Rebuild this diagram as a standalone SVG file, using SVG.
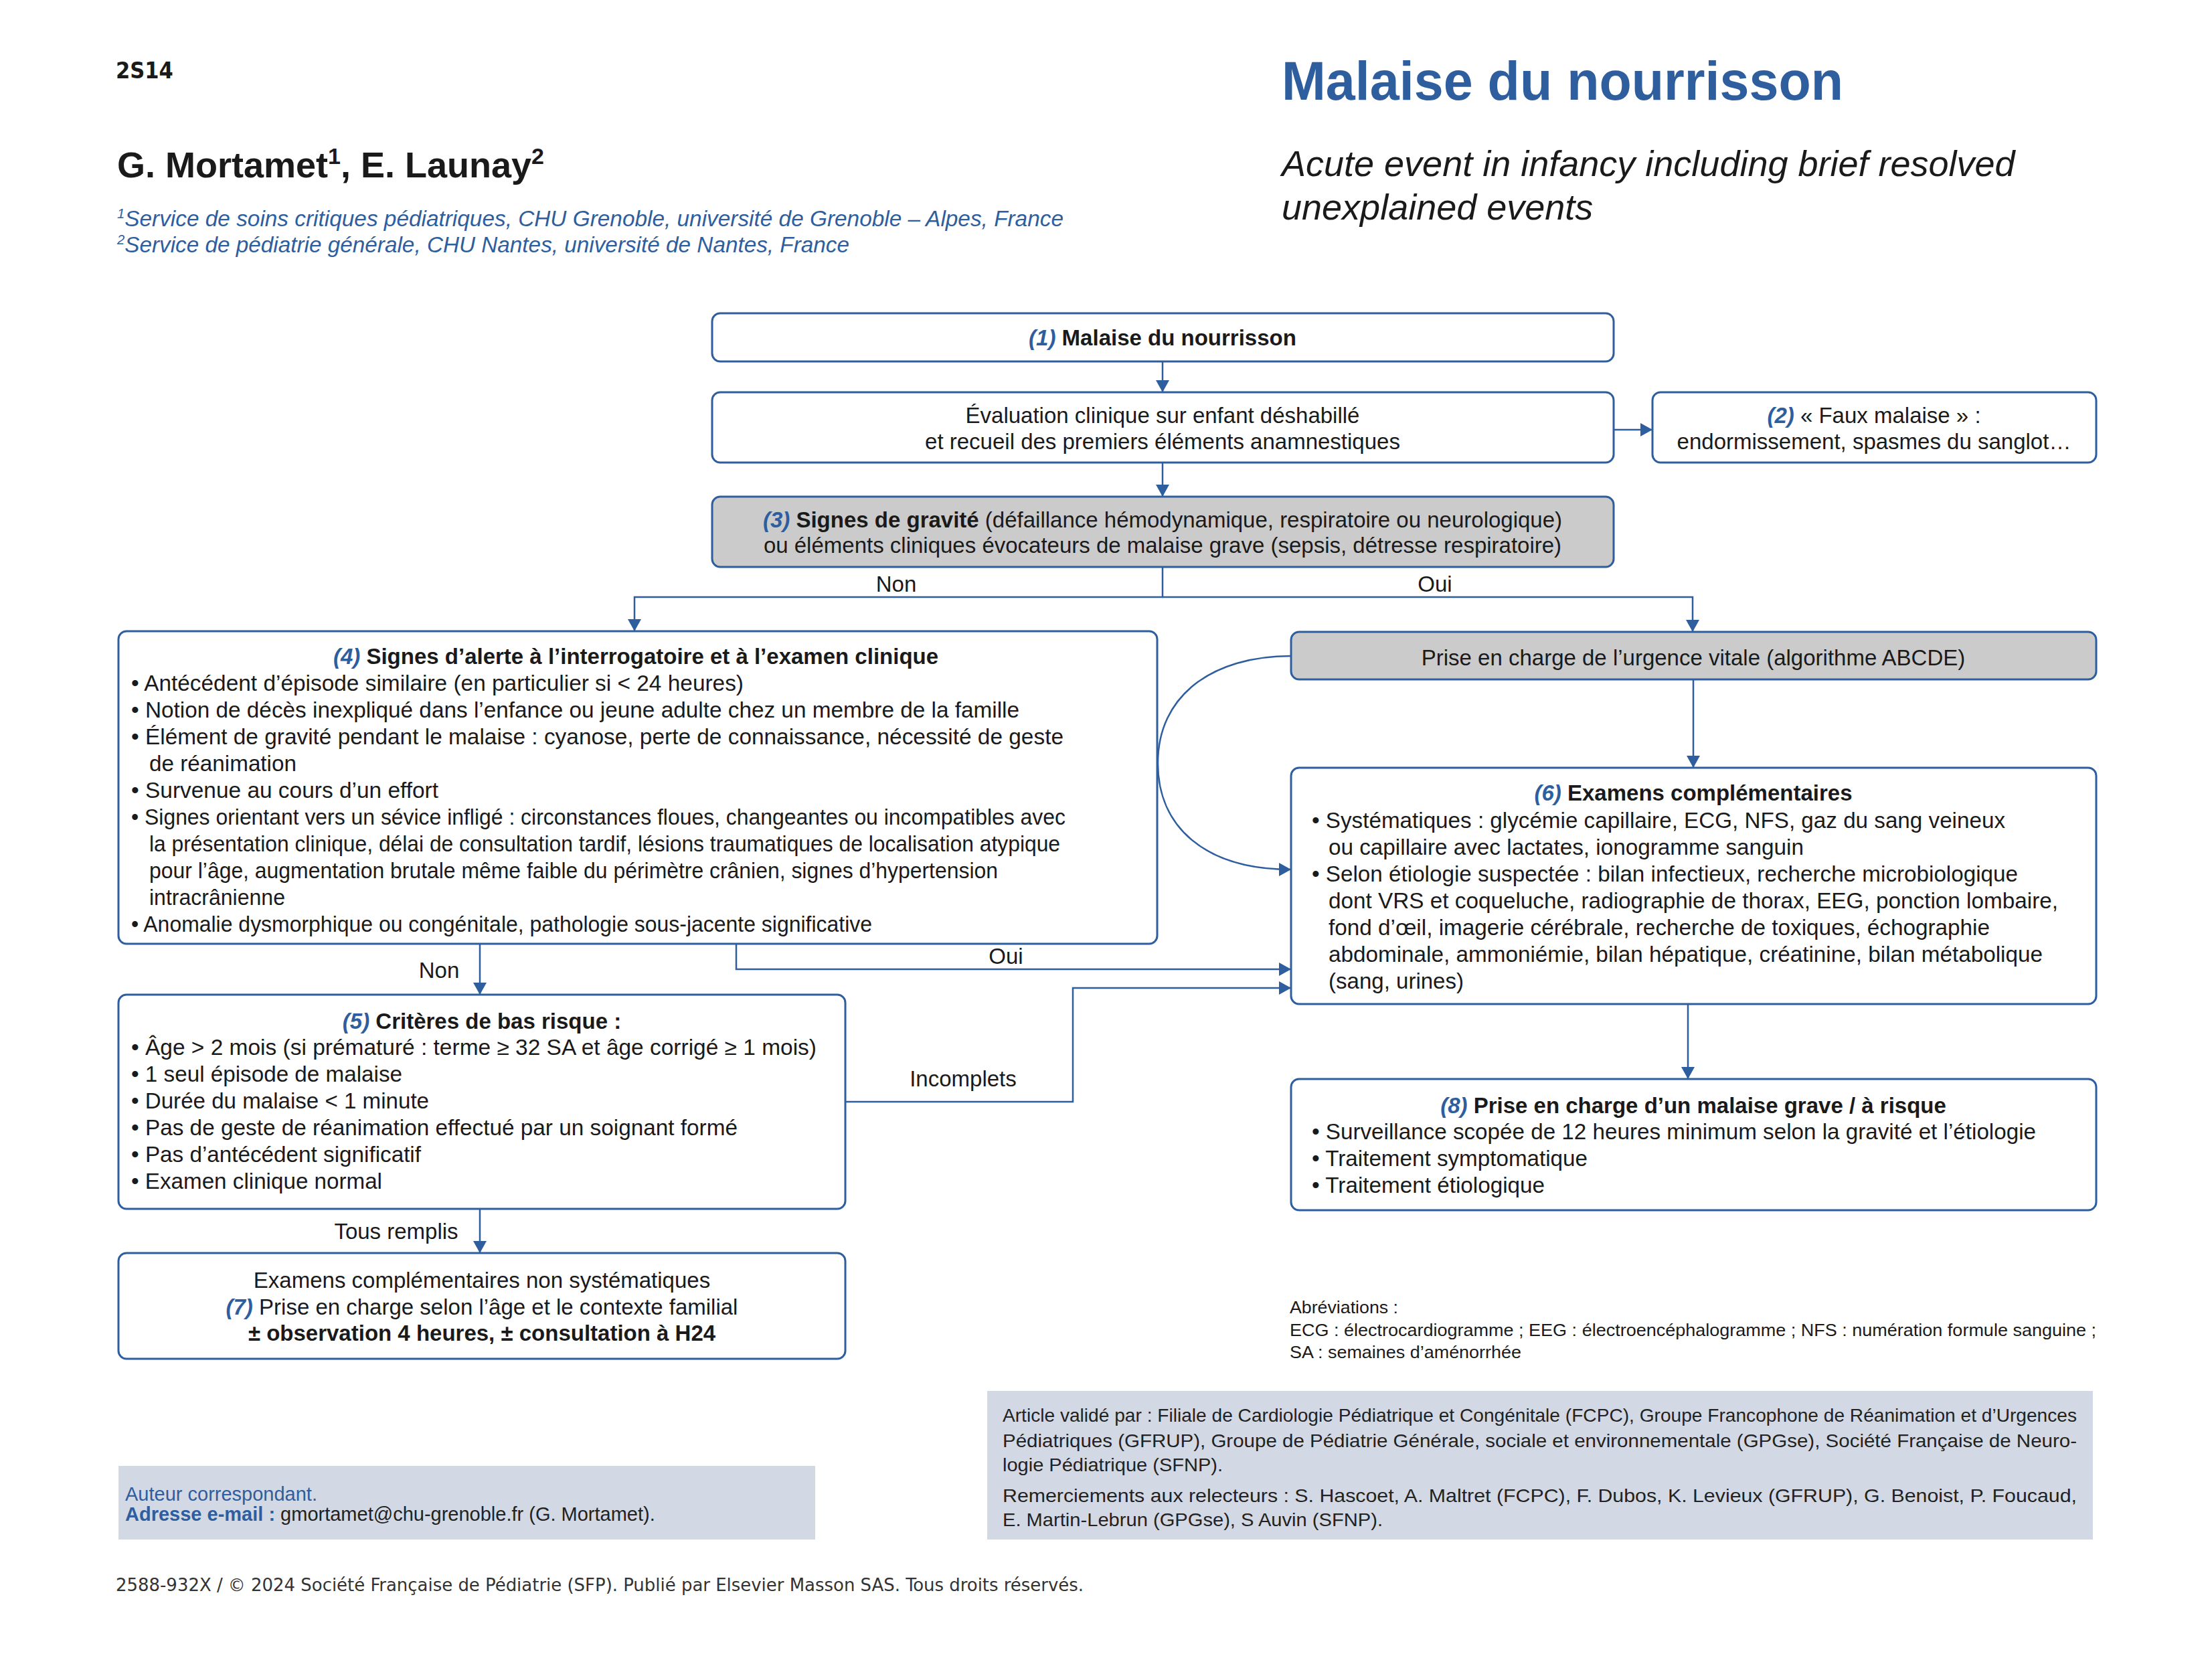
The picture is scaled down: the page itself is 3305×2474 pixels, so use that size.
<svg xmlns="http://www.w3.org/2000/svg" width="3305" height="2474" viewBox="0 0 3305 2474">
<style>
.t{font-family:"Liberation Sans",Arial,sans-serif;font-size:33px;fill:#1a1a1a}
.c{text-anchor:middle}
.b{font-weight:bold}
.n{fill:#2E5E9E;font-style:italic;font-weight:bold}
.box{fill:#ffffff;stroke:#2E5E9E;stroke-width:3}
.gray{fill:#cbcbcb}
.ln{fill:none;stroke:#2E5E9E;stroke-width:2.5;marker-end:url(#ah)}
.sm{font-family:"Liberation Sans",Arial,sans-serif;font-size:26px;fill:#1a1a1a}
.pn{font-family:"Liberation Sans",Arial,sans-serif;font-size:28.5px;fill:#222222}
.panel{fill:#d3d9e4}
</style>
<defs>
<marker id="ah" markerUnits="userSpaceOnUse" markerWidth="18" markerHeight="20" refX="18" refY="10" orient="auto">
<path d="M0,0 L18,10 L0,20 z" fill="#2E5E9E"/>
</marker>
</defs>
<rect x="0" y="0" width="3305" height="2474" fill="#ffffff"/>

<!-- Header -->
<text x="173" y="117" style="font-family:'DejaVu Sans Condensed','DejaVu Sans',sans-serif;font-weight:bold;font-size:34px;fill:#1a1a1a">2S14</text>
<text x="1915" y="149" textLength="839" lengthAdjust="spacingAndGlyphs" style="font-family:'Liberation Sans',Arial,sans-serif;font-weight:bold;font-size:81px;fill:#2E5E9E">Malaise du nourrisson</text>
<text x="175" y="265" style="font-family:'Liberation Sans',Arial,sans-serif;font-weight:bold;font-size:54px;fill:#1a1a1a">G. Mortamet<tspan font-size="34" dy="-20">1</tspan><tspan dy="20">, E. Launay</tspan><tspan font-size="34" dy="-20">2</tspan></text>
<text x="175" y="338" textLength="1414" lengthAdjust="spacingAndGlyphs" style="font-family:'Liberation Sans',Arial,sans-serif;font-style:italic;font-size:33px;fill:#2E5E9E"><tspan font-size="20" dy="-12">1</tspan><tspan dy="12">Service de soins critiques pédiatriques, CHU Grenoble, université de Grenoble – Alpes, France</tspan></text>
<text x="175" y="377" textLength="1094" lengthAdjust="spacingAndGlyphs" style="font-family:'Liberation Sans',Arial,sans-serif;font-style:italic;font-size:33px;fill:#2E5E9E"><tspan font-size="20" dy="-12">2</tspan><tspan dy="12">Service de pédiatrie générale, CHU Nantes, université de Nantes, France</tspan></text>
<text x="1915" y="263" style="font-family:'Liberation Sans',Arial,sans-serif;font-style:italic;font-size:54px;fill:#1a1a1a">Acute event in infancy including brief resolved</text>
<text x="1915" y="328" style="font-family:'Liberation Sans',Arial,sans-serif;font-style:italic;font-size:54px;fill:#1a1a1a">unexplained events</text>

<!-- Connectors -->
<g id="connectors">
<path class="ln" d="M1737,540 V586"/>
<path class="ln" d="M2411,642 H2469"/>
<path class="ln" d="M1737,691 V742"/>
<path class="ln" d="M1737,847 V892 H948 V943"/>
<path class="ln" d="M1737,892 H2529 V944"/>
<path class="ln" d="M1929,980 C1810,980 1730,1040 1730,1140 C1730,1235 1800,1299 1929,1299"/>
<path class="ln" d="M2530,1015 V1147"/>
<path class="ln" d="M2522,1500 V1612"/>
<path class="ln" d="M717,1410 V1486"/>
<path class="ln" d="M717,1806 V1872"/>
<path class="ln" d="M1100,1410 V1448 H1929"/>
<path class="ln" d="M1263,1646 H1603 V1476 H1929"/>
<text class="t c" x="1339" y="884">Non</text>
<text class="t c" x="2144" y="884">Oui</text>
<text class="t c" x="656" y="1461">Non</text>
<text class="t c" x="1503" y="1440">Oui</text>
<text class="t c" x="1439" y="1623">Incomplets</text>
<text class="t c" x="592" y="1851">Tous remplis</text>
</g>

<!-- Node 1 -->
<g id="node1">
<rect class="box" x="1064" y="468" width="1347" height="72" rx="12"/>
<text class="t c" x="1737" y="516"><tspan class="n">(1)</tspan><tspan class="b"> Malaise du nourrisson</tspan></text>
</g>

<!-- Evaluation -->
<g id="node-eval">
<rect class="box" x="1064" y="586" width="1347" height="105" rx="12"/>
<text class="t c" x="1737" y="632">Évaluation clinique sur enfant déshabillé</text>
<text class="t c" x="1737" y="671">et recueil des premiers éléments anamnestiques</text>
</g>

<!-- Node 2 -->
<g id="node2">
<rect class="box" x="2469" y="586" width="663" height="105" rx="12"/>
<text class="t c" x="2800" y="632"><tspan class="n">(2)</tspan> « Faux malaise » :</text>
<text class="t c" x="2800" y="671">endormissement, spasmes du sanglot…</text>
</g>

<!-- Node 3 -->
<g id="node3">
<rect class="box gray" x="1064" y="742" width="1347" height="105" rx="12"/>
<text class="t c" x="1737" y="788"><tspan class="n">(3)</tspan><tspan class="b"> Signes de gravité</tspan> (défaillance hémodynamique, respiratoire ou neurologique)</text>
<text class="t c" x="1737" y="826">ou éléments cliniques évocateurs de malaise grave (sepsis, détresse respiratoire)</text>
</g>

<!-- Node 4 -->
<g id="node4">
<rect class="box" x="177" y="943" width="1552" height="467" rx="12"/>
<text class="t c" x="950" y="992"><tspan class="n">(4)</tspan><tspan class="b"> Signes d’alerte à l’interrogatoire et à l’examen clinique</tspan></text>
<text class="t" x="196" y="1032" textLength="915" lengthAdjust="spacingAndGlyphs">• Antécédent d’épisode similaire (en particulier si &lt; 24 heures)</text>
<text class="t" x="196" y="1072" textLength="1327" lengthAdjust="spacingAndGlyphs">• Notion de décès inexpliqué dans l’enfance ou jeune adulte chez un membre de la famille</text>
<text class="t" x="196" y="1112" textLength="1393" lengthAdjust="spacingAndGlyphs">• Élément de gravité pendant le malaise : cyanose, perte de connaissance, nécessité de geste</text>
<text class="t" x="223" y="1152" textLength="220" lengthAdjust="spacingAndGlyphs">de réanimation</text>
<text class="t" x="196" y="1192" textLength="459" lengthAdjust="spacingAndGlyphs">• Survenue au cours d’un effort</text>
<text class="t" x="196" y="1232" textLength="1396" lengthAdjust="spacingAndGlyphs">• Signes orientant vers un sévice infligé : circonstances floues, changeantes ou incompatibles avec</text>
<text class="t" x="223" y="1272" textLength="1361" lengthAdjust="spacingAndGlyphs">la présentation clinique, délai de consultation tardif, lésions traumatiques de localisation atypique</text>
<text class="t" x="223" y="1312" textLength="1268" lengthAdjust="spacingAndGlyphs">pour l’âge, augmentation brutale même faible du périmètre crânien, signes d’hypertension</text>
<text class="t" x="223" y="1352" textLength="203" lengthAdjust="spacingAndGlyphs">intracrânienne</text>
<text class="t" x="196" y="1392" textLength="1107" lengthAdjust="spacingAndGlyphs">• Anomalie dysmorphique ou congénitale, pathologie sous-jacente significative</text>
</g>

<!-- Urgence vitale -->
<g id="node-urgence">
<rect class="box gray" x="1929" y="944" width="1203" height="71" rx="12"/>
<text class="t c" x="2530" y="994">Prise en charge de l’urgence vitale (algorithme ABCDE)</text>
</g>

<!-- Node 6 -->
<g id="node6">
<rect class="box" x="1929" y="1147" width="1203" height="353" rx="12"/>
<text class="t c" x="2530" y="1196"><tspan class="n">(6)</tspan><tspan class="b"> Examens complémentaires</tspan></text>
<text class="t" x="1960" y="1237" textLength="1036" lengthAdjust="spacingAndGlyphs">• Systématiques : glycémie capillaire, ECG, NFS, gaz du sang veineux</text>
<text class="t" x="1985" y="1277" textLength="710" lengthAdjust="spacingAndGlyphs">ou capillaire avec lactates, ionogramme sanguin</text>
<text class="t" x="1960" y="1317" textLength="1055" lengthAdjust="spacingAndGlyphs">• Selon étiologie suspectée : bilan infectieux, recherche microbiologique</text>
<text class="t" x="1985" y="1357" textLength="1090" lengthAdjust="spacingAndGlyphs">dont VRS et coqueluche, radiographie de thorax, EEG, ponction lombaire,</text>
<text class="t" x="1985" y="1397" textLength="988" lengthAdjust="spacingAndGlyphs">fond d’œil, imagerie cérébrale, recherche de toxiques, échographie</text>
<text class="t" x="1985" y="1437" textLength="1067" lengthAdjust="spacingAndGlyphs">abdominale, ammoniémie, bilan hépatique, créatinine, bilan métabolique</text>
<text class="t" x="1985" y="1477" textLength="202" lengthAdjust="spacingAndGlyphs">(sang, urines)</text>
</g>

<!-- Node 5 -->
<g id="node5">
<rect class="box" x="177" y="1486" width="1086" height="320" rx="12"/>
<text class="t c" x="720" y="1537"><tspan class="n">(5)</tspan><tspan class="b"> Critères de bas risque :</tspan></text>
<text class="t" x="196" y="1576" textLength="1024" lengthAdjust="spacingAndGlyphs">• Âge &gt; 2 mois (si prématuré : terme ≥ 32 SA et âge corrigé ≥ 1 mois)</text>
<text class="t" x="196" y="1616" textLength="405" lengthAdjust="spacingAndGlyphs">• 1 seul épisode de malaise</text>
<text class="t" x="196" y="1656" textLength="445" lengthAdjust="spacingAndGlyphs">• Durée du malaise &lt; 1 minute</text>
<text class="t" x="196" y="1696" textLength="906" lengthAdjust="spacingAndGlyphs">• Pas de geste de réanimation effectué par un soignant formé</text>
<text class="t" x="196" y="1736" textLength="433" lengthAdjust="spacingAndGlyphs">• Pas d’antécédent significatif</text>
<text class="t" x="196" y="1776" textLength="375" lengthAdjust="spacingAndGlyphs">• Examen clinique normal</text>
</g>

<!-- Node 7 -->
<g id="node7">
<rect class="box" x="177" y="1872" width="1086" height="158" rx="12"/>
<text class="t c" x="720" y="1924">Examens complémentaires non systématiques</text>
<text class="t c" x="720" y="1964"><tspan class="n">(7)</tspan> Prise en charge selon l’âge et le contexte familial</text>
<text class="t c b" x="720" y="2003">± observation 4 heures, ± consultation à H24</text>
</g>

<!-- Node 8 -->
<g id="node8">
<rect class="box" x="1929" y="1612" width="1203" height="196" rx="12"/>
<text class="t c" x="2530" y="1663"><tspan class="n">(8)</tspan><tspan class="b"> Prise en charge d’un malaise grave / à risque</tspan></text>
<text class="t" x="1960" y="1702" textLength="1082" lengthAdjust="spacingAndGlyphs">• Surveillance scopée de 12 heures minimum selon la gravité et l’étiologie</text>
<text class="t" x="1960" y="1742" textLength="412" lengthAdjust="spacingAndGlyphs">• Traitement symptomatique</text>
<text class="t" x="1960" y="1782" textLength="348" lengthAdjust="spacingAndGlyphs">• Traitement étiologique</text>
</g>

<!-- Abbreviations -->
<text class="sm" x="1927" y="1962" textLength="162" lengthAdjust="spacingAndGlyphs">Abréviations :</text>
<text class="sm" x="1927" y="1996" textLength="1205" lengthAdjust="spacingAndGlyphs">ECG : électrocardiogramme ; EEG : électroencéphalogramme ; NFS : numération formule sanguine ;</text>
<text class="sm" x="1927" y="2029" textLength="346" lengthAdjust="spacingAndGlyphs">SA : semaines d’aménorrhée</text>

<!-- Bottom panels -->
<rect class="panel" x="177" y="2190" width="1041" height="110"/>
<text class="pn" x="187" y="2242" style="font-size:29px;fill:#2E5E9E">Auteur correspondant.</text>
<text class="pn" x="187" y="2272" style="font-size:29px"><tspan style="fill:#2E5E9E;font-weight:bold">Adresse e-mail :</tspan> gmortamet@chu-grenoble.fr (G. Mortamet).</text>

<rect class="panel" x="1475" y="2078" width="1652" height="222"/>
<text class="pn" x="1498" y="2124" textLength="1605" lengthAdjust="spacingAndGlyphs">Article validé par : Filiale de Cardiologie Pédiatrique et Congénitale (FCPC), Groupe Francophone de Réanimation et d’Urgences</text>
<text class="pn" x="1498" y="2162" textLength="1605" lengthAdjust="spacingAndGlyphs">Pédiatriques (GFRUP), Groupe de Pédiatrie Générale, sociale et environnementale (GPGse), Société Française de Neuro-</text>
<text class="pn" x="1498" y="2198" textLength="329" lengthAdjust="spacingAndGlyphs">logie Pédiatrique (SFNP).</text>
<text class="pn" x="1498" y="2244" textLength="1605" lengthAdjust="spacingAndGlyphs">Remerciements aux relecteurs : S. Hascoet, A. Maltret (FCPC), F. Dubos, K. Levieux (GFRUP), G. Benoist, P. Foucaud,</text>
<text class="pn" x="1498" y="2280" textLength="568" lengthAdjust="spacingAndGlyphs">E. Martin-Lebrun (GPGse), S Auvin (SFNP).</text>

<!-- Footer -->
<text x="173" y="2377" textLength="1446" lengthAdjust="spacingAndGlyphs" style="font-family:'DejaVu Sans Condensed','DejaVu Sans',sans-serif;font-size:26px;fill:#333333">2588-932X / © 2024 Société Française de Pédiatrie (SFP). Publié par Elsevier Masson SAS. Tous droits réservés.</text>
</svg>
